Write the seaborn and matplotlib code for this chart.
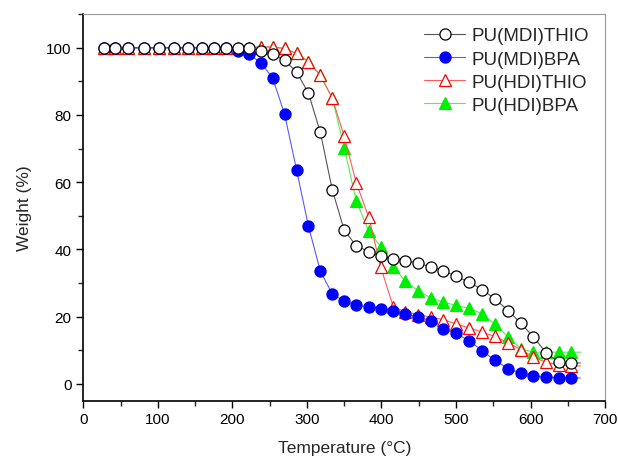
import matplotlib
matplotlib.use("Agg")
import matplotlib.pyplot as plt
from matplotlib.lines import Line2D
from matplotlib.ticker import MultipleLocator
import seaborn as sns

temperature = [28, 42, 60, 81, 101, 121, 141, 159, 175, 191, 207, 222, 238, 254,
               270, 286, 302, 318, 334, 350, 366, 383, 399, 416, 432, 449, 466,
               483, 500, 518, 535, 552, 570, 587, 604, 621, 638, 655, 667]

mdi_thio = [100, 100, 100, 100, 100, 100, 100, 100, 100, 100, 100, 100, 99.0, 98.1,
            96.3, 92.8, 86.5, 74.8, 57.7, 45.7, 41.1, 39.3, 37.9, 37.1, 36.5, 36.0,
            34.7, 33.7, 32.0, 30.2, 28.0, 25.3, 21.8, 18.0, 13.9, 9.2, 6.4, 6.2, 6.2]
mdi_bpa = [100, 100, 100, 100, 100, 100, 100, 100, 100, 100, 99.0, 98.1, 95.6, 91.0,
           80.2, 63.7, 46.9, 33.5, 26.7, 24.6, 23.5, 22.8, 22.3, 21.8, 20.8, 19.8,
           18.8, 16.3, 15.0, 12.7, 9.9, 7.0, 4.5, 3.1, 2.3, 2.0, 1.8, 1.8, 1.7]
hdi_thio = [100, 100, 100, 100, 100, 100, 100, 100, 100, 100, 100, 100, 100.3, 100.2,
            99.8, 98.3, 95.9, 91.8, 85.0, 73.6, 59.9, 49.5, 34.7, 22.8, 21.5, 20.6,
            19.8, 19.1, 17.8, 16.6, 15.4, 14.1, 12.2, 10.2, 7.9, 6.4, 5.6, 5.4, 5.3]
hdi_bpa = [100, 100, 100, 100, 100, 100, 100, 100, 100, 100, 100, 100, 100.3, 100.2,
           99.8, 98.3, 95.9, 91.8, 85.0, 70.3, 54.5, 45.4, 40.8, 34.9, 30.5, 27.7,
           25.6, 24.3, 23.3, 22.5, 20.8, 17.8, 13.9, 10.4, 9.4, 9.4, 9.4, 9.4, 9.4]

series = [
    ("PU(MDI)THIO", mdi_thio, "#000000", "#555555", "o", "white", 8.0, 4),
    ("PU(MDI)BPA", mdi_bpa, "#0000ff", "#5a5aff", "o", "#0000ff", 8.0, 3),
    ("PU(HDI)THIO", hdi_thio, "#ff0000", "#ff5a5a", "^", "white", 8.5, 2),
    ("PU(HDI)BPA", hdi_bpa, "#00ee00", "#55ee55", "^", "#00ee00", 8.5, 1),
]

sns.set_style("ticks")
plt.rcParams["font.family"] = ["Liberation Sans", "DejaVu Sans"]

fig = plt.figure(figsize=(6.18, 4.6), dpi=100)
ax = fig.add_axes([0.135, 0.127, 0.844, 0.840])

handles = []
for label, values, mcolor, lcolor, marker, face, size, z in series:
    # connecting line runs to the end, markers stop one point early
    sns.lineplot(x=temperature, y=values, color=lcolor, lw=0.8, ax=ax, zorder=z)
    sns.lineplot(x=temperature[:-1], y=values[:-1], color=lcolor, lw=0,
                 marker=marker, ms=size, mfc=face, mec=mcolor, mew=0.9,
                 ax=ax, zorder=z + 0.5)
    handles.append(Line2D([], [], color=lcolor, lw=0.8, marker=marker,
                          ms=size, mfc=face, mec=mcolor, mew=0.9, label=label))

ax.set_xlim(0, 700)
ax.xaxis.set_major_locator(MultipleLocator(100))
ax.xaxis.set_minor_locator(MultipleLocator(50))
ax.yaxis.set_minor_locator(MultipleLocator(10))
ax.set_yticks([0, 20, 40, 60, 80, 100])
ax.set_ylim(-5, 110)
ax.tick_params(which="major", direction="out", length=5, width=1.0,
               labelsize=11, colors="black", top=False, right=False)
ax.tick_params(which="minor", direction="out", length=3.5, width=1.0,
               top=False, right=False)

for side in ["left", "bottom"]:
    ax.spines[side].set_color("black")
    ax.spines[side].set_linewidth(1.2)
for side in ["top", "right"]:
    ax.spines[side].set_visible(True)
    ax.spines[side].set_color("#999999")
    ax.spines[side].set_linewidth(0.8)

ax.set_xlabel("Temperature (°C)", fontsize=12.5, labelpad=10)
ax.set_ylabel("Weight (%)", fontsize=12.5, labelpad=10)

ax.legend(handles=handles, loc="upper right", frameon=False, fontsize=13.5,
          handlelength=2.2, handletextpad=0.35, labelspacing=0.32,
          bbox_to_anchor=(0.995, 1.0), borderaxespad=0.3)

fig.savefig("out.png", dpi=100)
plt.close(fig)
